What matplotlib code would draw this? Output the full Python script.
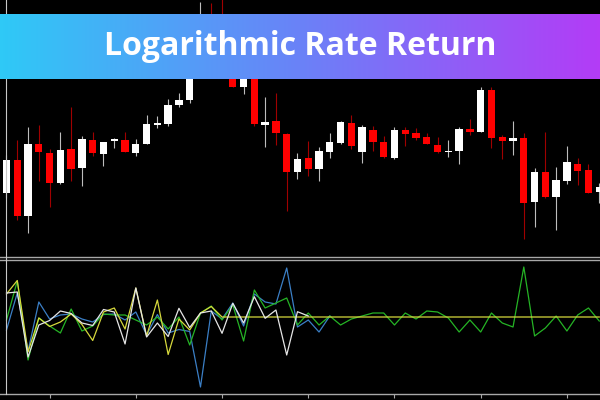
import numpy as np
import matplotlib
matplotlib.use("Agg")
import matplotlib.pyplot as plt
from matplotlib.colors import LinearSegmentedColormap
from matplotlib.lines import Line2D

# ---------------- candle data (price units) ----------------
opens  = [107, 140, 84, 156, 147.3, 117, 151, 132, 160, 145.7, 160, 159.7, 147, 156, 176, 176, 195.5, 200,
          230, 265, 265, 230, 213.3, 225, 175.3, 179, 166, 128.3, 142.3, 130.7, 147.5, 157.2, 177.3, 147.7,
          170, 158.3, 142.3, 170.3, 167, 163, 155, 148.7, 149.3, 170.7, 167.7, 210, 163.3, 159.5, 162, 98.3,
          128.3, 103.3, 119.3, 135.8, 130.5, 108]
highs  = [145, 160, 173, 175, 151, 168, 193, 164, 168, 158.3, 162.3, 168, 161, 185, 184.5, 201, 206.7, 235,
          298, 297.3, 302, 235, 230, 228, 203.3, 207.5, 167, 147.5, 159, 153, 167.3, 179.3, 185, 175,
          174, 164, 173, 173, 172.5, 167.5, 162.8, 159.7, 172.7, 180.8, 212.7, 212.7, 165.3, 179, 167.2, 131.7,
          168.3, 133, 154, 142.3, 135.7, 116.7]
lows   = [102, 80, 67, 119, 93, 116, 119, 114.5, 144, 134.3, 152.5, 147.7, 144.3, 156, 172.3, 174, 193.3, 197.3,
          228, 240, 225, 213.3, 206, 174, 152.7, 155, 89.3, 121.5, 124.5, 119.3, 142.3, 156, 150.7, 137.3,
          148.7, 141.7, 140.7, 154, 159.7, 156, 146.7, 143.3, 136, 164.7, 167.7, 152.3, 140.8, 145, 61.3, 73.3,
          101.7, 69.6, 116.3, 115.3, 106.7, 96.7]
closes = [140, 84, 156, 148, 116.7, 150, 131, 161, 147.3, 158.3, 160, 147.7, 156, 176, 176, 195, 200, 228,
          255, 245, 230, 213.3, 225, 176, 178.3, 166.7, 127.7, 141, 131, 149, 158.3, 178.3, 154, 172.7,
          158, 142.7, 170.3, 166, 161.7, 156.3, 148, 148.7, 170.7, 167.8, 210, 162.3, 159.2, 162.3, 97.3, 128.3,
          102.5, 120, 138.3, 129, 107.3, 113]

# ---------------- oscillator data (log rate return, scaled) ----------------
green_ret = [-3, 36, -43, -1, -9, -16, 8, -14, -9, 3, 2, 2, -3, -8, 0, -12, 0, -28, 4, 11, -3, 12, -24, 27,
             9, 14, 19, -8, 4, -8, 1, -8, -2, 1, 4, 4, -8, 4, -2, 6, 5, -1, -15, -3, -15, 4, -6, -10, 50,
             -19, -11, 1, -14, 2, 9, -4]
blue_ret = [-13, 24, -34, 15, -2, 2, 3, -2, -5, 2.5, 3, -3, 5, -18, 2.5, -16, -12.5, -14.5, -70, 6, -2, 14,
            -9, 23, 15, 13, 49, -10, -3, -15, 1]
yellow_ret = [23, 36.5, -35, -1, -9.5, -5, 3, -7.5, -23.5, 5, 9, -12, 29, -19, 17, -37.5, -2, -13, 4, 10.5,
              0, 0, 0, 0, 0, 0, 0, 0, 0, 0, 0, 0, 0, 0, 0, 0, 0, 0, 0, 0, 0, 0, 0, 0, 0, 0, 0, 0, 0, 0,
              0, 0, 0, 0, 0, 0]
white_ret = [24, 25, -40, -8, -3.5, 6, 3.5, -6, -8.5, 7.5, 5, -27, 29, -20, -6, -19.5, 8.7, -10.5, 4, 6,
             -16.3, 13.7, -6, 20.3, -1.3, 7, -38, 5.3, 1]

tick_positions = [4, 12, 20, 28, 36, 44, 52]
title_text = "Logarithmic Rate Return"

# ---------------- figure ----------------
W, H = 600, 400
fig = plt.figure(figsize=(6, 4), dpi=100, facecolor="black")

xlim = (-0.603, 55.07)
grey = "#a8a8a8"

# main candle panel (y px 0..257)
ax = fig.add_axes([0, 1 - 257 / H, 1, 257 / H])
ax.set_facecolor("black")
for s in ax.spines.values():
    s.set_visible(False)
ax.spines["bottom"].set_visible(True)
ax.spines["bottom"].set_color(grey)
ax.spines["bottom"].set_linewidth(1.0)
ax.set_xticks([])
ax.set_yticks([])
ax.set_xlim(*xlim)
ax.set_ylim(43, 300)

o = np.array(opens, float)
h = np.array(highs, float)
l = np.array(lows, float)
c = np.array(closes, float)
idx = np.arange(len(o))
bull = c >= o
body_cols = np.where(bull, "#ffffff", "#ff0000")
wick_cols = np.where(bull, "#bdbdbd", "#a00000")
bottoms = np.minimum(o, c)
heights = np.maximum(np.abs(c - o), 1.6)
bottoms = np.where(np.abs(c - o) < 1.6, o - 0.8, bottoms)

ax.vlines(idx, l, h, colors=list(wick_cols), linewidth=0.8, zorder=1)
ax.bar(idx, heights, bottom=bottoms, width=0.68, color=list(body_cols), linewidth=0, zorder=2)

# oscillator panel (y px 259.5..394)
ax2 = fig.add_axes([0, 6 / H, 1, (394 - 259.5) / H])
ax2.set_facecolor("black")
for s in ax2.spines.values():
    s.set_visible(False)
for side in ("top", "bottom"):
    ax2.spines[side].set_visible(True)
    ax2.spines[side].set_color(grey)
    ax2.spines[side].set_linewidth(1.0)
ax2.set_xlim(*xlim)
ax2.set_ylim(-77, 57.5)
ax2.set_yticks([])
ax2.set_xticks(tick_positions)
ax2.tick_params(axis="x", direction="out", length=3, color=grey, labelbottom=False)

ax2.plot(np.arange(len(blue_ret)), blue_ret, color="#3b7fc6", lw=0.9)
ax2.plot(np.arange(len(green_ret)), green_ret, color="#25b425", lw=0.9)
ax2.plot(np.arange(len(yellow_ret)), yellow_ret, color="#d6d83c", lw=0.9)
ax2.plot(np.arange(len(white_ret)), white_ret, color="#e6e6e6", lw=0.9)

# left border line
fig.add_artist(Line2D([6.3 / W, 6.3 / W], [6 / H, 1], color="#c8c8c8", lw=0.8))

# gradient title banner (y px 14..79)
bax = fig.add_axes([0, 1 - 79 / H, 1, 65 / H])
bax.set_zorder(10)
cmap = LinearSegmentedColormap.from_list("banner", ["#2fc9f6", "#6a82f8", "#b33cf6"])
bax.imshow(np.linspace(0, 1, 600)[None, :], aspect="auto", cmap=cmap, extent=[0, 1, 0, 1])
bax.set_xlim(0, 1)
bax.set_ylim(0, 1)
bax.axis("off")
bax.text(0.5, (79 - 55) / 65, title_text, color="white", fontsize=23, fontweight="bold",
         family=["Open Sans", "DejaVu Sans"], ha="center", va="baseline", transform=bax.transAxes)

fig.savefig("out.png", dpi=100, facecolor="black")
